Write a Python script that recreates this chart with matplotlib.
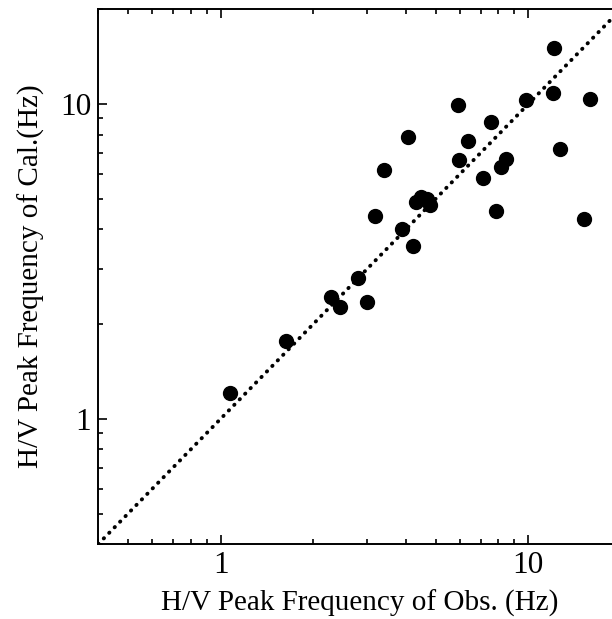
import matplotlib
matplotlib.use("Agg")
import matplotlib.pyplot as plt
from matplotlib.ticker import FixedLocator, FixedFormatter, LogLocator, NullFormatter

# H/V peak frequencies (Hz)
obs_freq = [12.09, 12.03, 15.84, 9.81, 5.90, 7.55, 6.37, 12.68, 4.07, 5.94,
            8.45, 8.17, 3.39, 7.12, 4.31, 4.48, 4.69, 4.79, 7.85, 15.21,
            3.17, 3.88, 4.23, 2.80, 2.28, 2.45, 3.00, 1.63, 1.075]
cal_freq = [15.09, 10.86, 10.35, 10.27, 9.93, 8.77, 7.63, 7.20, 7.88, 6.64,
            6.68, 6.32, 6.19, 5.83, 4.90, 5.06, 4.99, 4.79, 4.58, 4.32,
            4.42, 4.02, 3.53, 2.80, 2.43, 2.26, 2.35, 1.77, 1.21]

axis_range = [0.4, 20]
major_ticks = [1, 10]
major_labels = ["1", "10"]

plt.rcParams["font.family"] = ["Liberation Serif", "DejaVu Serif"]

fig = plt.figure(figsize=(6.12, 6.19), dpi=100)
ax = fig.add_axes([98.3 / 612, 75 / 619, 522.6 / 612, 534.7 / 619])

ax.set_xscale("log")
ax.set_yscale("log")
ax.set_xlim(axis_range)
ax.set_ylim(axis_range)

# 1:1 line
ax.axline((1, 1), (10, 10), color="black", lw=2.8,
          linestyle=(0, (0.1, 1.9)), dash_capstyle="round")

ax.plot(obs_freq, cal_freq, "o", color="black", ms=10, mec="black")

for axis in (ax.xaxis, ax.yaxis):
    axis.set_major_locator(FixedLocator(major_ticks))
    axis.set_major_formatter(FixedFormatter(major_labels))
    axis.set_minor_locator(LogLocator(base=10, subs=range(2, 10)))
    axis.set_minor_formatter(NullFormatter())

ax.tick_params(which="both", direction="in", top=True, right=True, width=1.2)
ax.tick_params(which="major", length=6.5, labelsize=22.5, pad=5)
ax.tick_params(which="minor", length=3.6)
for sp in ax.spines.values():
    sp.set_linewidth(1.4)

ax.set_xlabel("H/V Peak Frequency of Obs. (Hz)", fontsize=21, labelpad=7)
ax.set_ylabel("H/V Peak Frequency of Cal.(Hz)", fontsize=21, labelpad=11)

fig.savefig("out.png", dpi=100)
